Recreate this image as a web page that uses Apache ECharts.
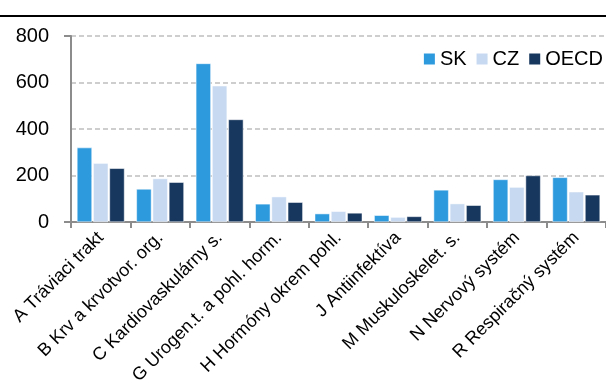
<!DOCTYPE html>
<html>
<head>
<meta charset="utf-8">
<script src="https://cdn.jsdelivr.net/npm/echarts@6/dist/echarts.min.js"></script>
<style>
  html, body { margin: 0; padding: 0; background: #fff; }
  #main { width: 606px; height: 389px; }
</style>
</head>
<body>
<div id="main"></div>
<script>
var categories = ['A Tráviaci trakt', 'B Krv a krvotvor. org.', 'C Kardiovaskulárny s.', 'G Urogen.t. a pohl. horm.', 'H Hormóny okrem pohl.', 'J Antiinfektíva', 'M Muskuloskelet. s.', 'N Nervový systém', 'R Respiračný systém'];
var sk = [320, 142, 682, 78, 36, 29, 138, 183, 192];
var cz = [253, 187, 586, 109, 46, 21, 79, 150, 130];
var oecd = [231, 171, 441, 85, 39, 24, 72, 200, 117];
var yEndTicks = [0, 800];

var chart = echarts.init(document.getElementById('main'));

var font = '"Liberation Sans", Arial, sans-serif';

var option = {
  animation: false,
  textStyle: { fontFamily: font },
  color: ['#2e9ade', '#c6d9f1', '#17375e'],
  graphic: [
    {
      type: 'rect',
      shape: { x: 0, y: 15, width: 606, height: 2 },
      style: { fill: '#000' }
    }
  ],
  legend: {
    data: ['SK', 'CZ', 'OECD'],
    right: -2,
    top: 44,
    itemWidth: 13,
    itemHeight: 13,
    itemGap: 8,
    icon: 'rect',
    textStyle: { fontSize: 20, color: '#000', fontFamily: font, padding: [0, 0, 0, -1] }
  },
  grid: {
    left: 71,
    right: 0,
    top: 36,
    bottom: 167,
    containLabel: false,
    outerBoundsMode: 'none'
  },
  xAxis: {
    type: 'category',
    data: categories,
    axisLine: { lineStyle: { color: '#8c8c8c', width: 2 } },
    axisTick: { show: true, length: 6, lineStyle: { color: '#8c8c8c', width: 2 } },
    axisLabel: {
      interval: 0,
      rotate: 45,
      fontSize: 18,
      fontFamily: font,
      color: '#000',
      margin: 13
    }
  },
  yAxis: [
    {
      type: 'value',
      min: 0,
      max: 800,
      interval: 200,
      axisLine: { show: true, lineStyle: { color: '#8c8c8c', width: 2 } },
      axisTick: { show: false },
      axisLabel: { fontSize: 20, fontFamily: font, color: '#000', margin: 22 },
      splitLine: { lineStyle: { color: '#bfbfbf', type: [5, 3], width: 1.5 } }
    },
    {
      type: 'value',
      position: 'left',
      min: 0,
      max: 800,
      interval: 200,
      axisLine: { show: false },
      axisTick: { show: true, customValues: yEndTicks, length: 7, lineStyle: { color: '#8c8c8c', width: 2 } },
      axisLabel: { show: false },
      splitLine: { show: false }
    }
  ],
  series: [
    { name: 'SK', type: 'bar', data: sk, barGap: '8%', barCategoryGap: '20%',
      itemStyle: { borderColor: '#fff', borderWidth: 0.5 } },
    { name: 'CZ', type: 'bar', data: cz,
      itemStyle: { borderColor: '#fff', borderWidth: 0.5 } },
    { name: 'OECD', type: 'bar', data: oecd,
      itemStyle: { borderColor: '#fff', borderWidth: 0.5 } }
  ]
};

chart.setOption(option);
</script>
</body>
</html>
